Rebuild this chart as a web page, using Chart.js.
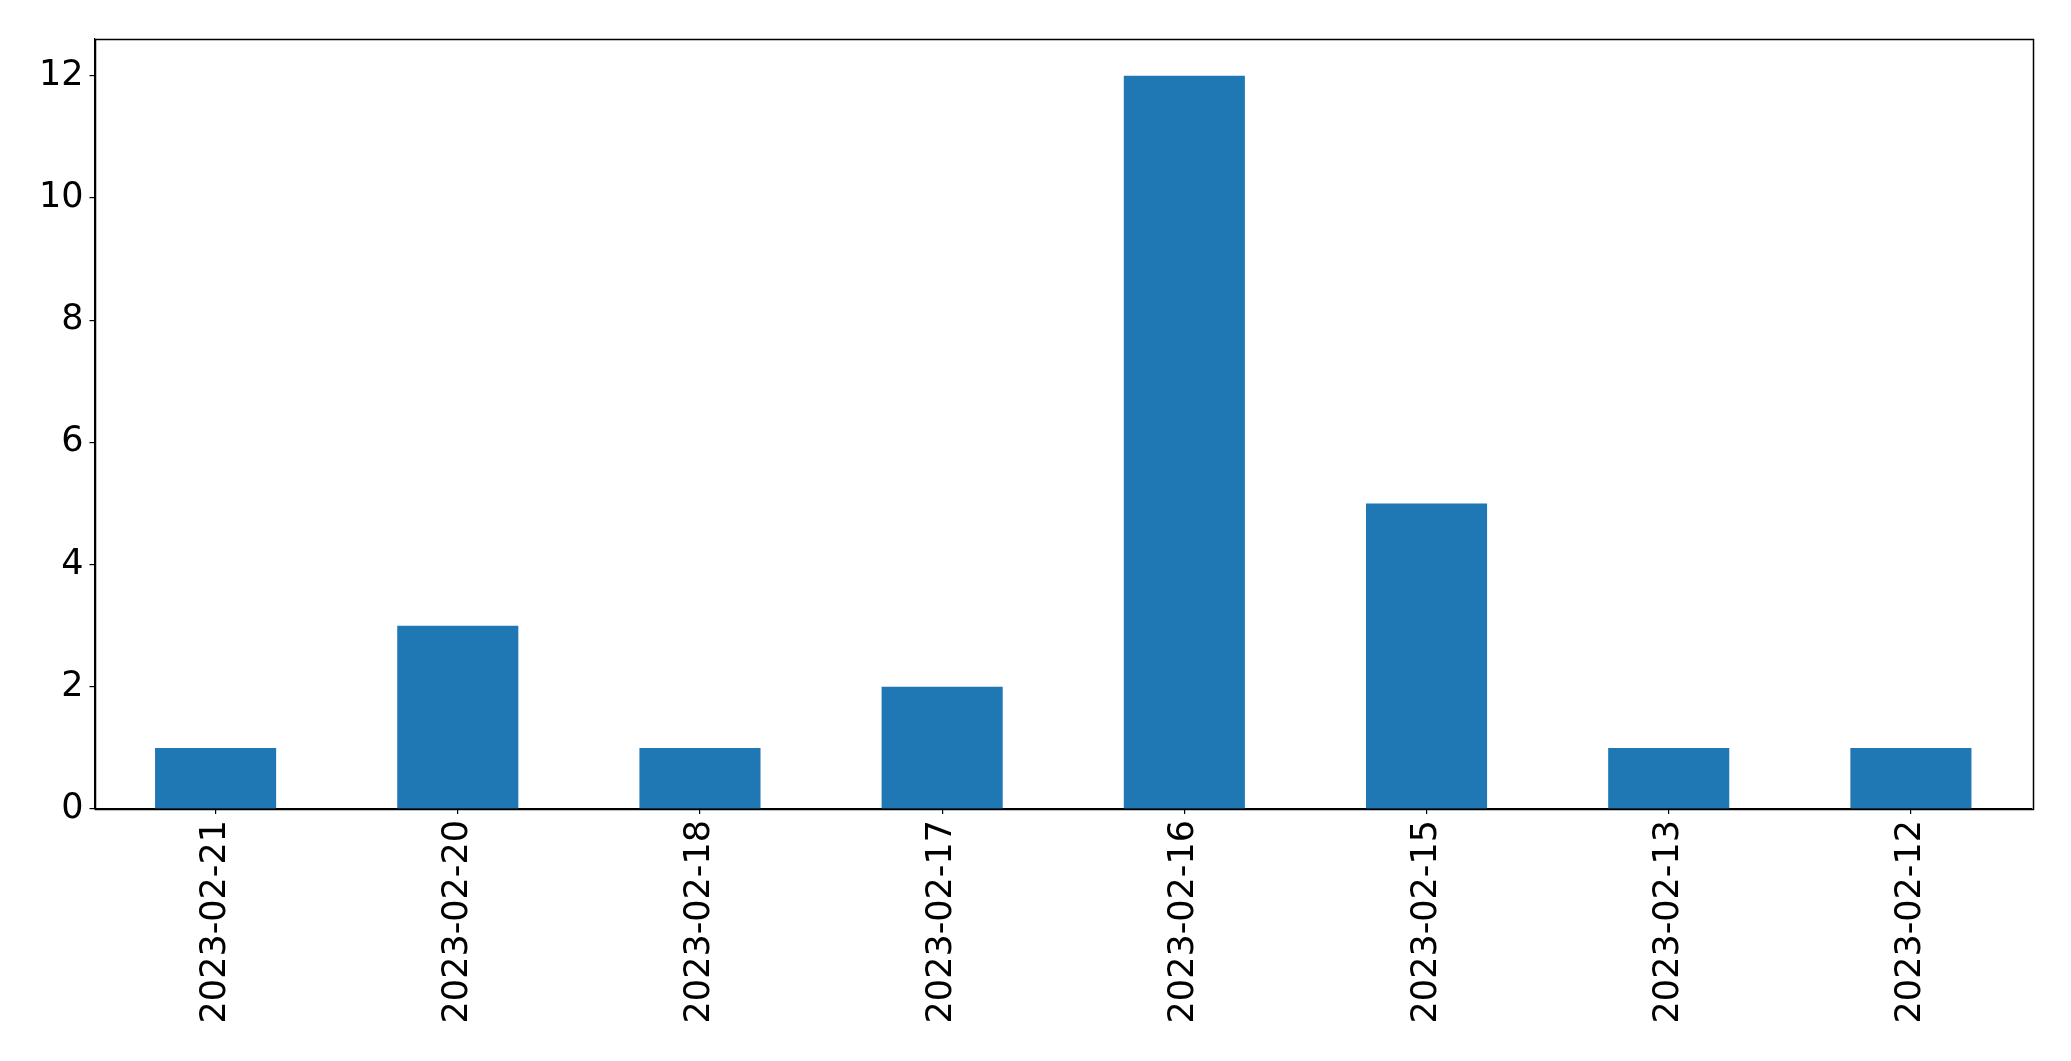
<!DOCTYPE html>
<html>
<head>
<meta charset="utf-8">
<script src="https://cdn.jsdelivr.net/npm/chart.js@4/dist/chart.umd.min.js"></script>
<style>
  html, body { margin: 0; padding: 0; background: #fff; }
  #wrap { width: 2071px; height: 1061px; position: relative; }
</style>
</head>
<body>
<div id="wrap"><canvas id="c" width="2071" height="1061"></canvas></div>
<script>
const categories = ["2023-02-21", "2023-02-20", "2023-02-18", "2023-02-17", "2023-02-16", "2023-02-15", "2023-02-13", "2023-02-12"];
const counts = [1, 3, 1, 2, 12, 5, 1, 1];
const yTicks = [0, 2, 4, 6, 8, 10, 12];
const yMax = 12.6;

const framePlugin = {
  id: 'frame',
  afterDraw(chart) {
    const a = chart.chartArea, ctx = chart.ctx;
    ctx.save();
    ctx.strokeStyle = '#000';
    ctx.lineWidth = 1.5;
    ctx.strokeRect(Math.round(a.left) + 0.5, Math.round(a.top) + 0.5, Math.round(a.right - a.left), Math.round(a.bottom - a.top));
    ctx.restore();
  }
};

new Chart(document.getElementById('c'), {
  type: 'bar',
  data: {
    labels: categories,
    datasets: [{ data: counts, backgroundColor: '#1f77b4', borderWidth: 0, barPercentage: 0.5, categoryPercentage: 1.0 }]
  },
  options: {
    responsive: false,
    animation: false,
    devicePixelRatio: 1,
    layout: { padding: { top: 39, right: 39, left: 0, bottom: 0 } },
    plugins: { legend: { display: false }, tooltip: { enabled: false } },
    scales: {
      x: {
        offset: true,
        grid: { display: true, offset: false, drawOnChartArea: false, drawTicks: true, tickLength: 5, color: '#000', lineWidth: 1.2 },
        border: { display: true, color: '#000', width: 1.2 },
        ticks: { color: '#000', font: { family: 'DejaVu Sans', size: 35 }, minRotation: 90, maxRotation: 90, padding: 6, autoSkip: false },
        afterFit(s) { s.height = 252; }
      },
      y: {
        min: 0, max: yMax,
        grid: { display: true, drawOnChartArea: false, drawTicks: true, tickLength: 5, color: '#000', lineWidth: 1.2 },
        border: { display: true, color: '#000', width: 1.2 },
        ticks: { color: '#000', font: { family: 'DejaVu Sans', size: 35 }, padding: 6 },
        afterBuildTicks(s) { s.ticks = yTicks.map(v => ({ value: v })); },
        afterFit(s) { s.width = 94.5; }
      }
    }
  },
  plugins: [framePlugin]
});
</script>
</body>
</html>
